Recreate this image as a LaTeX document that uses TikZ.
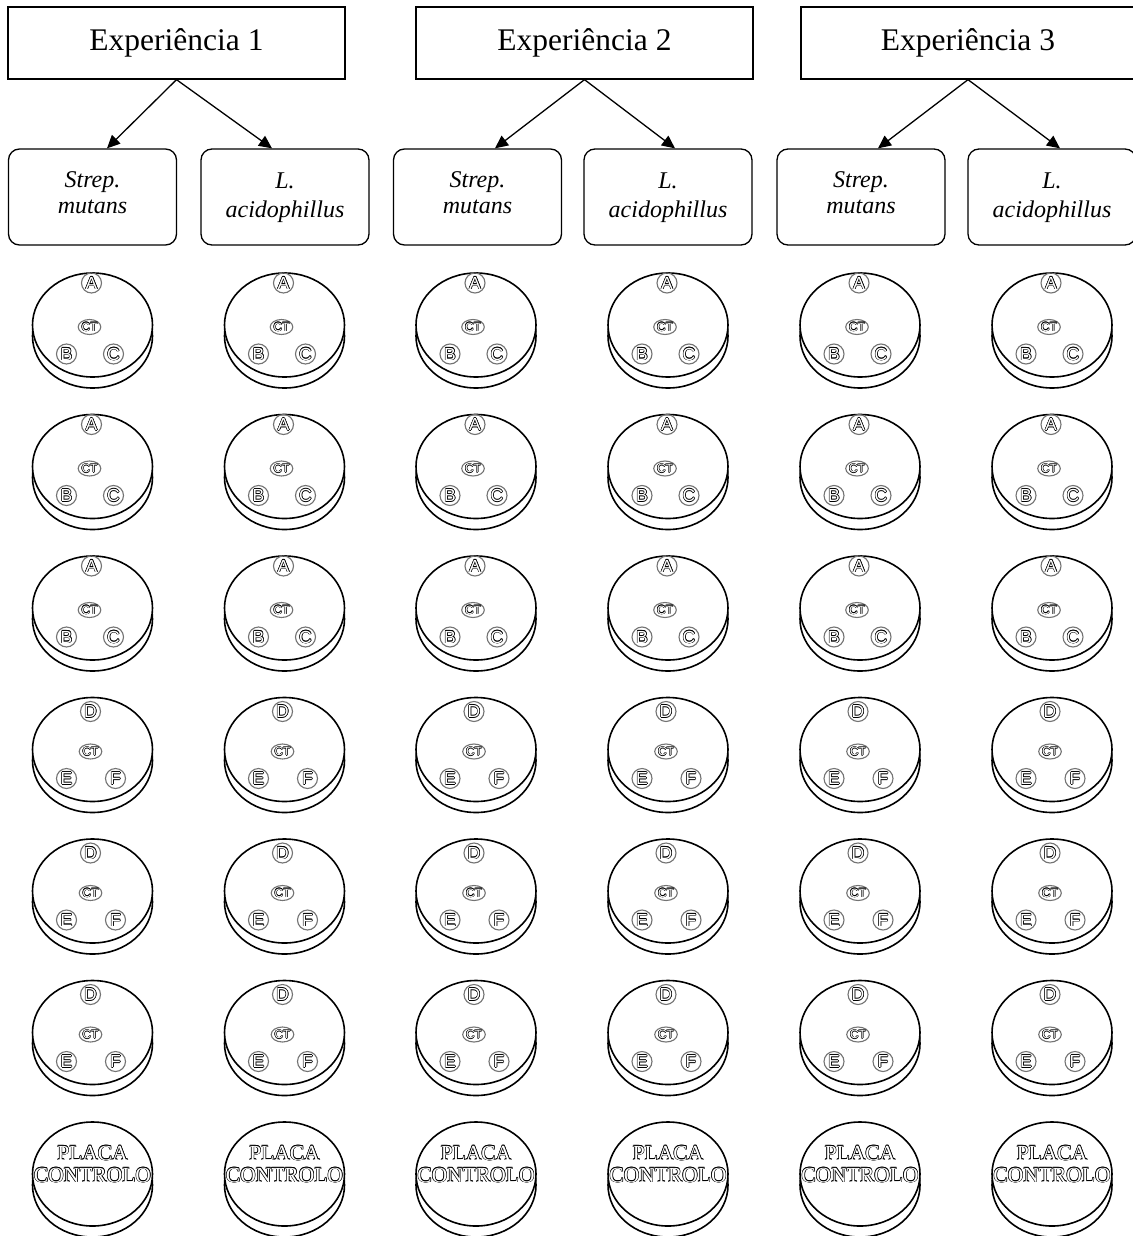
\documentclass[tikz,border=0pt]{standalone}
\usepackage{fontspec}
\setmainfont{Liberation Serif}
\newfontfamily\lsans{Liberation Sans}
\usetikzlibrary{arrows.meta,shapes.geometric}
\newdimen\holdim
\newcommand\holw[2][0.6pt]{{\holdim=#1\relax\setbox0\hbox{#2}%
\rlap{\kern\holdim\copy0}%
\rlap{\kern-\holdim\copy0}%
\rlap{\raise\holdim\copy0}%
\rlap{\lower\holdim\copy0}%
\rlap{\kern0.7\holdim\raise0.7\holdim\copy0}%
\rlap{\kern-0.7\holdim\raise0.7\holdim\copy0}%
\rlap{\kern0.7\holdim\lower0.7\holdim\copy0}%
\rlap{\kern-0.7\holdim\lower0.7\holdim\copy0}%
\textcolor{white}{#2}}}
\tikzset{
  topbox/.style={draw, line width=1.3pt, minimum width=337pt, minimum height=72pt,
    inner sep=0pt, font=\fontsize{31.5}{36}\selectfont},
  subbox/.style={draw, line width=1.3pt, rounded corners=11pt, minimum width=168pt,
    minimum height=96pt, inner sep=0pt},
  sptext/.style={anchor=base, inner sep=0pt, font=\fontsize{24}{24}\selectfont\itshape},
  link/.style={line width=1.3pt, -{Triangle[length=13pt,width=12pt]}},
  dish/.style={line width=1.6pt, fill=white},
  lbl/.style={circle, draw=black!55, line width=1.1pt, minimum size=20pt, inner sep=0pt,
    font=\lsans\fontsize{17.5}{17.5}\selectfont},
  ctl/.style={ellipse, draw=black!55, line width=1.1pt, minimum width=19pt, minimum height=15pt,
    inner sep=0pt, font=\lsans\fontsize{12}{12}\selectfont},
  ctrltext/.style={align=center, inner sep=0pt, font=\fontsize{21.5}{22}\selectfont},
}
\begin{document}
\begin{tikzpicture}[x=1pt,y=-1pt]
\useasboundingbox (0,0) rectangle (1132,1236);
% top boxes
\node[topbox] (e1) at (176.5,43) {Experiência 1};
\node[topbox] (e2) at (584.5,43) {Experiência 2};
\node[topbox, minimum width=334pt] (e3) at (968,43) {Experiência 3};
% sub boxes
\node[subbox] (s11) at (92.5,197) {};
\node[subbox] (s12) at (285,197) {};
\node[subbox] (s21) at (477.5,197) {};
\node[subbox] (s22) at (668,197) {};
\node[subbox] (s31) at (861,197) {};
\node[subbox] (s32) at (1052,197) {};
% texts
\node[sptext] (t11a) at (92.5,187) {Strep.};
\node[sptext] (t11b) at (92.5,213) {mutans};
\node[sptext] (t12a) at (285,188) {L.};
\node[sptext] (t12b) at (285,217) {acidophillus};
\node[sptext] (t21a) at (477.5,187) {Strep.};
\node[sptext] (t21b) at (477.5,213) {mutans};
\node[sptext] (t22a) at (668,188) {L.};
\node[sptext] (t22b) at (668,217) {acidophillus};
\node[sptext] (t31a) at (861,187) {Strep.};
\node[sptext] (t31b) at (861,213) {mutans};
\node[sptext] (t32a) at (1052,188) {L.};
\node[sptext] (t32b) at (1052,217) {acidophillus};
% arrows
\draw[link] (e1.south) -- ([xshift=14.5pt]s11.north);
\draw[link] (e1.south) -- ([xshift=-13pt]s12.north);
\draw[link] (e2.south) -- ([xshift=17.5pt]s21.north);
\draw[link] (e2.south) -- ([xshift=7pt]s22.north);
\draw[link] (e3.south) -- ([xshift=17pt]s31.north);
\draw[link] (e3.south) -- ([xshift=8pt]s32.north);
% dishes
\foreach \cx [count=\c] in {92.5,284.5,476,668,860,1052} {
  \foreach \r in {0,...,6} {
    \pgfmathsetmacro\cy{325+141.5*\r}
    \draw[dish] (\cx,\cy+11) ellipse [x radius=60, y radius=52];
    \draw[dish] (\cx,\cy) ellipse [x radius=60, y radius=52];
  }
  \foreach \r in {0,1,2} {
    \pgfmathsetmacro\cy{324+141.5*\r}
    \node[lbl] (a-\c-\r) at (\cx-1,\cy-41) {\holw{A}};
    \node[ctl] (ct-\c-\r) at (\cx-3,\cy+3) {\holw[0.5pt]{CT}};
    \node[lbl] (b-\c-\r) at (\cx-26,\cy+30) {\holw{B}};
    \node[lbl] (cc-\c-\r) at (\cx+21,\cy+30) {\holw{C}};
  }
  \foreach \r in {3,4,5} {
    \pgfmathsetmacro\cy{324+141.5*\r}
    \node[lbl] (d-\c-\r) at (\cx-2,\cy-37) {\holw{D}};
    \node[ctl] (ct-\c-\r) at (\cx-2,\cy+3) {\holw[0.5pt]{CT}};
    \node[lbl] (e-\c-\r) at (\cx-26,\cy+30) {\holw{E}};
    \node[lbl] (f-\c-\r) at (\cx+23,\cy+30) {\holw{F}};
  }
  \pgfmathsetmacro\cy{324+141.5*6}
  \node[ctrltext] (pc-\c) at (\cx,\cy-9) {\holw[0.6pt]{PLACA}\\\holw[0.6pt]{CONTROLO}};
}
\end{tikzpicture}
\end{document}
